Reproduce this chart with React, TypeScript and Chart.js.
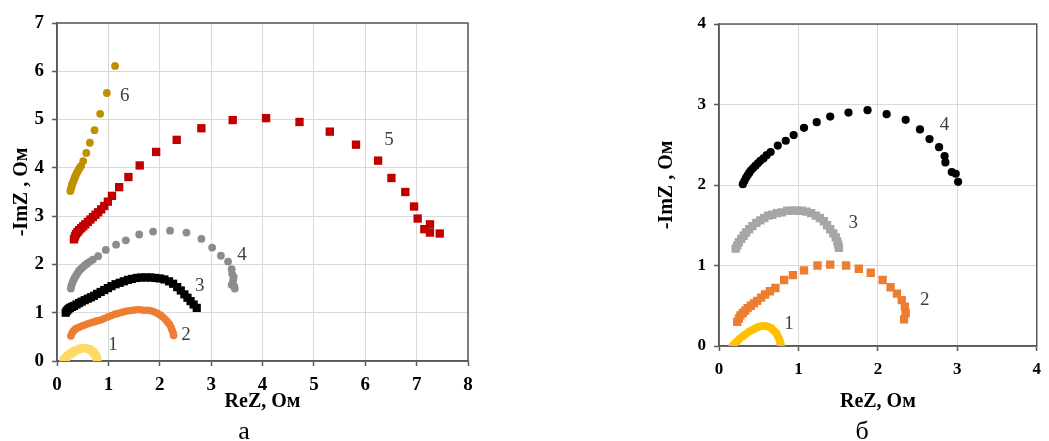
import React, { useEffect, useRef } from "react";
import { Chart, registerables } from "chart.js";
Chart.register(...registerables);

const FONT = '"Liberation Serif", "Times New Roman", serif';

// ---------- Panel "а" ----------
const a1X = [0.12, 0.15, 0.18, 0.21, 0.25, 0.29, 0.33, 0.37, 0.42, 0.47, 0.52, 0.57, 0.62, 0.66, 0.70, 0.73, 0.75, 0.77, 0.78, 0.79];
const a1Y = [0.00, 0.04, 0.08, 0.11, 0.14, 0.17, 0.20, 0.22, 0.24, 0.26, 0.27, 0.26, 0.25, 0.22, 0.19, 0.15, 0.11, 0.07, 0.03, 0.00];

const a2X = [0.27, 0.29, 0.31, 0.34, 0.37, 0.41, 0.45, 0.50, 0.55, 0.60, 0.66, 0.72, 0.78, 0.85, 0.92, 0.99, 1.06, 1.13, 1.20, 1.27, 1.34, 1.41, 1.48, 1.55, 1.62, 1.69, 1.76, 1.83, 1.89, 1.95, 2.01, 2.06, 2.11, 2.15, 2.19, 2.22, 2.24, 2.26, 2.27];
const a2Y = [0.52, 0.57, 0.61, 0.64, 0.67, 0.69, 0.71, 0.73, 0.75, 0.77, 0.79, 0.81, 0.83, 0.85, 0.88, 0.91, 0.94, 0.97, 0.99, 1.01, 1.03, 1.04, 1.05, 1.06, 1.06, 1.05, 1.05, 1.04, 1.02, 0.99, 0.95, 0.91, 0.86, 0.81, 0.76, 0.70, 0.64, 0.58, 0.53];

const a3X = [0.17, 0.19, 0.22, 0.25, 0.29, 0.33, 0.38, 0.43, 0.48, 0.54, 0.60, 0.66, 0.72, 0.78, 0.85, 0.92, 0.99, 1.06, 1.14, 1.22, 1.30, 1.38, 1.46, 1.55, 1.64, 1.73, 1.82, 1.91, 2.00, 2.09, 2.18, 2.26, 2.34, 2.41, 2.48, 2.54, 2.60, 2.66, 2.72];
const a3Y = [1.00, 1.04, 1.07, 1.10, 1.12, 1.14, 1.17, 1.20, 1.23, 1.26, 1.29, 1.32, 1.35, 1.39, 1.43, 1.47, 1.51, 1.55, 1.59, 1.62, 1.65, 1.68, 1.70, 1.72, 1.73, 1.73, 1.73, 1.72, 1.71, 1.69, 1.65, 1.60, 1.53, 1.46, 1.38, 1.31, 1.24, 1.17, 1.10];

const a4X = [0.27, 0.28, 0.30, 0.32, 0.34, 0.37, 0.40, 0.43, 0.47, 0.51, 0.55, 0.59, 0.64, 0.70, 0.80, 0.95, 1.15, 1.34, 1.60, 1.87, 2.20, 2.52, 2.81, 3.02, 3.19, 3.33, 3.40, 3.41, 3.43, 3.44, 3.40, 3.45, 3.46];
const a4Y = [1.50, 1.56, 1.62, 1.67, 1.72, 1.77, 1.82, 1.87, 1.91, 1.95, 1.99, 2.02, 2.06, 2.10, 2.17, 2.30, 2.41, 2.50, 2.62, 2.68, 2.70, 2.66, 2.53, 2.35, 2.18, 2.06, 1.90, 1.80, 1.68, 1.74, 1.58, 1.55, 1.50];

const a5X = [0.33, 0.35, 0.37, 0.40, 0.43, 0.47, 0.51, 0.55, 0.60, 0.65, 0.70, 0.75, 0.80, 0.86, 0.92, 0.99, 1.07, 1.21, 1.39, 1.61, 1.93, 2.33, 2.81, 3.42, 4.07, 4.72, 5.31, 5.82, 6.25, 6.51, 6.78, 6.95, 7.02, 7.15, 7.26, 7.26, 7.45];
const a5Y = [2.52, 2.58, 2.63, 2.67, 2.71, 2.75, 2.79, 2.83, 2.88, 2.93, 2.98, 3.03, 3.08, 3.14, 3.21, 3.30, 3.42, 3.60, 3.81, 4.05, 4.33, 4.58, 4.82, 4.99, 5.03, 4.95, 4.75, 4.48, 4.15, 3.79, 3.50, 3.20, 2.95, 2.73, 2.83, 2.66, 2.64];

const a6X = [0.26, 0.27, 0.28, 0.29, 0.30, 0.32, 0.33, 0.35, 0.36, 0.38, 0.40, 0.42, 0.44, 0.47, 0.51, 0.57, 0.64, 0.73, 0.84, 0.97, 1.13];
const a6Y = [3.52, 3.56, 3.60, 3.64, 3.68, 3.72, 3.76, 3.80, 3.84, 3.88, 3.92, 3.96, 4.00, 4.04, 4.14, 4.31, 4.52, 4.78, 5.12, 5.55, 6.11];

const aLabelText = ["1", "2", "3", "4", "5", "6"];
const aLabelX = [1.09, 2.51, 2.78, 3.60, 6.46, 1.32];
const aLabelY = [0.33, 0.54, 1.55, 2.20, 4.58, 5.49];

// ---------- Panel "б" ----------
const b1X = [0.17, 0.20, 0.23, 0.26, 0.30, 0.34, 0.38, 0.42, 0.46, 0.50, 0.54, 0.58, 0.62, 0.66, 0.69, 0.72, 0.74, 0.76, 0.77, 0.78];
const b1Y = [0.00, 0.03, 0.06, 0.09, 0.12, 0.15, 0.18, 0.20, 0.22, 0.24, 0.25, 0.25, 0.24, 0.22, 0.19, 0.16, 0.12, 0.08, 0.04, 0.01];

const b2X = [0.23, 0.25, 0.27, 0.30, 0.33, 0.36, 0.40, 0.44, 0.48, 0.53, 0.58, 0.64, 0.71, 0.82, 0.93, 1.07, 1.24, 1.40, 1.60, 1.76, 1.91, 2.06, 2.16, 2.24, 2.30, 2.34, 2.35, 2.33];
const b2Y = [0.30, 0.34, 0.38, 0.41, 0.44, 0.47, 0.50, 0.53, 0.56, 0.60, 0.64, 0.68, 0.72, 0.82, 0.88, 0.94, 1.00, 1.01, 1.00, 0.96, 0.91, 0.82, 0.73, 0.65, 0.57, 0.49, 0.41, 0.33];

const b3X = [0.21, 0.23, 0.25, 0.28, 0.31, 0.34, 0.38, 0.42, 0.47, 0.52, 0.57, 0.62, 0.67, 0.73, 0.79, 0.86, 0.92, 0.98, 1.04, 1.10, 1.16, 1.22, 1.27, 1.32, 1.36, 1.40, 1.44, 1.47, 1.49, 1.50, 1.51];
const b3Y = [1.21, 1.25, 1.29, 1.33, 1.37, 1.41, 1.45, 1.49, 1.53, 1.56, 1.59, 1.62, 1.63, 1.65, 1.66, 1.68, 1.68, 1.68, 1.68, 1.67, 1.65, 1.62, 1.59, 1.55, 1.50, 1.45, 1.40, 1.35, 1.30, 1.26, 1.22];

const b4X = [0.30, 0.32, 0.34, 0.36, 0.38, 0.40, 0.43, 0.46, 0.49, 0.52, 0.56, 0.60, 0.65, 0.74, 0.84, 0.94, 1.07, 1.23, 1.40, 1.63, 1.87, 2.11, 2.35, 2.53, 2.65, 2.77, 2.84, 2.85, 2.93, 2.98, 3.01];
const b4Y = [2.01, 2.05, 2.09, 2.12, 2.15, 2.18, 2.21, 2.24, 2.27, 2.30, 2.33, 2.37, 2.41, 2.49, 2.55, 2.62, 2.71, 2.78, 2.85, 2.90, 2.93, 2.88, 2.81, 2.69, 2.57, 2.47, 2.36, 2.28, 2.16, 2.14, 2.04];

const bLabelText = ["1", "2", "3", "4"];
const bLabelX = [0.88, 2.59, 1.69, 2.84];
const bLabelY = [0.27, 0.57, 1.53, 2.75];

const pts = (xs: number[], ys: number[]) => xs.map((x, i) => ({ x, y: ys[i] }));

function ds(xs: number[], ys: number[], color: string, style: string, radius: number) {
  return {
    data: pts(xs, ys),
    showLine: false,
    pointStyle: style,
    pointRadius: radius,
    pointHoverRadius: radius,
    pointBackgroundColor: color,
    pointBorderColor: color,
    pointBorderWidth: 0,
  };
}

type PanelCfg = {
  canvasLeft: number;
  canvasWidth: number;
  padding: { top: number; right: number; bottom: number; left: number };
  yWidth: number;
  xHeight: number;
  xMax: number;
  yMax: number;
  tickSize: number;
  yTitlePad: number;
  datasets: any[];
  labels: { t: string[]; x: number[]; y: number[] };
  caption: string;
  captionX: number;
};

function Panel({ cfg }: { cfg: PanelCfg }) {
  const ref = useRef<HTMLCanvasElement | null>(null);
  useEffect(() => {
    if (!ref.current) return;
    const axisColor = "#595959";
    const gridColor = "#d9d9d9";
    const framePlugin = {
      id: "frame",
      beforeDatasetsDraw(chart: any) {
        const { ctx, chartArea } = chart;
        ctx.save();
        ctx.strokeStyle = axisColor;
        ctx.lineWidth = 1.5;
        ctx.strokeRect(chartArea.left, chartArea.top, chartArea.right - chartArea.left, chartArea.bottom - chartArea.top);
        ctx.restore();
      },
      afterDatasetsDraw(chart: any) {
        const { ctx, scales } = chart;
        ctx.save();
        ctx.fillStyle = "#404040";
        ctx.font = `19px ${FONT}`;
        ctx.textAlign = "center";
        ctx.textBaseline = "middle";
        cfg.labels.t.forEach((t, i) => {
          ctx.fillText(t, scales.x.getPixelForValue(cfg.labels.x[i]), scales.y.getPixelForValue(cfg.labels.y[i]));
        });
        ctx.fillStyle = "#000";
        ctx.font = `26px ${FONT}`;
        ctx.textBaseline = "alphabetic";
        ctx.fillText(cfg.caption, cfg.captionX, 439);
        ctx.restore();
      },
    };
    const chart = new Chart(ref.current, {
      type: "scatter",
      data: { datasets: cfg.datasets },
      options: {
        animation: false,
        responsive: false,
        maintainAspectRatio: false,
        events: [],
        layout: { padding: cfg.padding },
        plugins: { legend: { display: false }, tooltip: { enabled: false } },
        scales: {
          x: {
            type: "linear",
            min: 0,
            max: cfg.xMax,
            afterFit: (s: any) => { s.height = cfg.xHeight; },
            ticks: { stepSize: 1, color: "#000", padding: 8, maxRotation: 0, font: { family: FONT, size: cfg.tickSize, weight: "bold" } },
            grid: { color: gridColor, lineWidth: 1, tickColor: axisColor, tickLength: 5, tickWidth: 1.5 },
            border: { color: axisColor, width: 1.5 },
            title: { display: true, text: "ReZ, Ом", color: "#000", padding: 0, font: { family: FONT, size: 20, weight: "bold" } },
          },
          y: {
            type: "linear",
            min: 0,
            max: cfg.yMax,
            afterFit: (s: any) => { s.width = cfg.yWidth; },
            ticks: { stepSize: 1, color: "#000", padding: 8, font: { family: FONT, size: cfg.tickSize, weight: "bold" } },
            grid: { color: gridColor, lineWidth: 1, tickColor: axisColor, tickLength: 5, tickWidth: 1.5 },
            border: { color: axisColor, width: 1.5 },
            title: { display: true, text: "-ImZ , Ом", color: "#000", padding: { top: cfg.yTitlePad, bottom: 0 }, font: { family: FONT, size: 20, weight: "bold" } },
          },
        },
      } as any,
      plugins: [framePlugin],
    });
    return () => chart.destroy();
  }, [cfg]);
  return (
    <canvas
      ref={ref}
      width={cfg.canvasWidth}
      height={441}
      style={{ position: "absolute", left: cfg.canvasLeft, top: 0, width: cfg.canvasWidth, height: 441 }}
    />
  );
}

const cfgA: PanelCfg = {
  canvasLeft: 0,
  canvasWidth: 520,
  padding: { top: 23, right: 52, bottom: 27, left: 0 },
  yWidth: 57,
  xHeight: 53,
  xMax: 8,
  yMax: 7,
  tickSize: 19,
  yTitlePad: 10,
  datasets: [
    ds(a1X, a1Y, "#FFD966", "rect", 5.5),
    ds(a2X, a2Y, "#ED7D31", "circle", 3.8),
    ds(a3X, a3Y, "#000000", "rect", 5.8),
    ds(a4X, a4Y, "#8C8C8C", "circle", 3.9),
    ds(a5X, a5Y, "#C00000", "rect", 5.9),
    ds(a6X, a6Y, "#BF9000", "circle", 3.9),
  ],
  labels: { t: aLabelText, x: aLabelX, y: aLabelY },
  caption: "а",
  captionX: 244,
};

const cfgB: PanelCfg = {
  canvasLeft: 640,
  canvasWidth: 409,
  padding: { top: 24, right: 6, bottom: 27, left: 0 },
  yWidth: 79,
  xHeight: 68,
  xMax: 4,
  yMax: 4,
  tickSize: 17,
  yTitlePad: 15,
  datasets: [
    ds(b1X, b1Y, "#FFC000", "circle", 4),
    ds(b2X, b2Y, "#ED7D31", "rect", 5.9),
    ds(b3X, b3Y, "#A6A6A6", "rect", 5.9),
    ds(b4X, b4Y, "#000000", "circle", 4.1),
  ],
  labels: { t: bLabelText, x: bLabelX, y: bLabelY },
  caption: "б",
  captionX: 222,
};

export default function App() {
  return (
    <div style={{ position: "absolute", left: 0, top: 0, width: 1049, height: 441, background: "#fff", overflow: "hidden" }}>
      <Panel cfg={cfgA} />
      <Panel cfg={cfgB} />
    </div>
  );
}
